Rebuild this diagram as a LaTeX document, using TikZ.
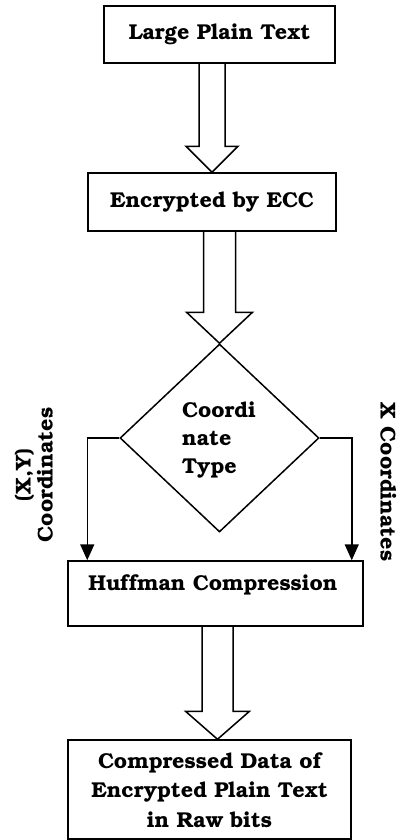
\documentclass[tikz,border=0pt]{standalone}
\usepackage[T1]{fontenc}
\usepackage{bookman}
\usetikzlibrary{shapes.geometric,arrows.meta,calc}

\tikzset{
  box/.style={draw, line width=1.5pt, rectangle, inner sep=0pt, align=center,
    font=\fontsize{21.5}{29.5}\selectfont\bfseries},
  decision/.style={draw, line width=1.5pt, diamond, inner sep=0pt},
  label text/.style={inner sep=0pt, align=center, font=\fontsize{21.5}{22}\selectfont\bfseries},
  blockarr/.style={draw, line width=1.5pt, line join=miter},
  conn/.style={draw, line width=1.5pt, -{Triangle[width=14pt,length=16pt]}},
}

% hollow block arrow: tip, source node side, shaft half-width, head half-width, head length
\newcommand\hollowarrow[5]{%
  \coordinate (ha-r) at ($(#1)+(#3,0)$);
  \coordinate (ha-l) at ($(#1)+(-#3,0)$);
  \draw[blockarr] (ha-r |- #2) -- ($(#1)+(#3,-#5)$) -- ($(#1)+(#4,-#5)$) -- (#1)
    -- ($(#1)+(-#4,-#5)$) -- ($(#1)+(-#3,-#5)$) -- (ha-l |- #2);
}

\begin{document}
\begin{tikzpicture}[x=1pt,y=-1pt]
  \useasboundingbox (0,0) rectangle (399,840);

  \node[box, minimum width=231pt, minimum height=57pt] (b1) at (219.5,34.5) {Large Plain Text};
  \node[box, minimum width=248pt, minimum height=58pt] (b2) at (212,202) {Encrypted by ECC};
  \node[decision, minimum width=199pt, minimum height=188pt] (dia) at (219.5,438) {};
  \node[label text, align=left, font=\fontsize{21.5}{28}\selectfont\bfseries] (diat) at (219,440) {Coordi\\nate\\Type};
  \node[box, minimum width=295pt, minimum height=65pt] (b3) at (215.5,593.5) {};
  \node[label text] (b3t) at (213,585) {Huffman Compression};
  \node[box, minimum width=283pt, minimum height=99pt] (b4) at (209.5,789.5)
    {Compressed Data of\\Encrypted Plain Text\\in Raw bits};

  % side labels
  \node[label text, rotate=90] (ly) at (34,475) {(X,Y)\\Coordinates};
  \node[label text, rotate=-90] (lx) at (388,482) {X Coordinates};

  % block arrows
  \hollowarrow{b2.north}{b1.south}{13}{26}{26}
  \hollowarrow{dia.north}{b2.south}{16}{33}{31}
  \coordinate (t3) at ($(b4.north)+(8,0)$);
  \hollowarrow{t3}{b3.south}{15.5}{32}{28}

  % branches of the decision
  \coordinate (lend) at ($(b3.north west)+(20,0)$);
  \coordinate (rend) at ($(b3.north east)+(-12,0)$);
  \draw[conn] (dia.west) -| (lend);
  \draw[conn] (dia.east) -| (rend);
\end{tikzpicture}
\end{document}
